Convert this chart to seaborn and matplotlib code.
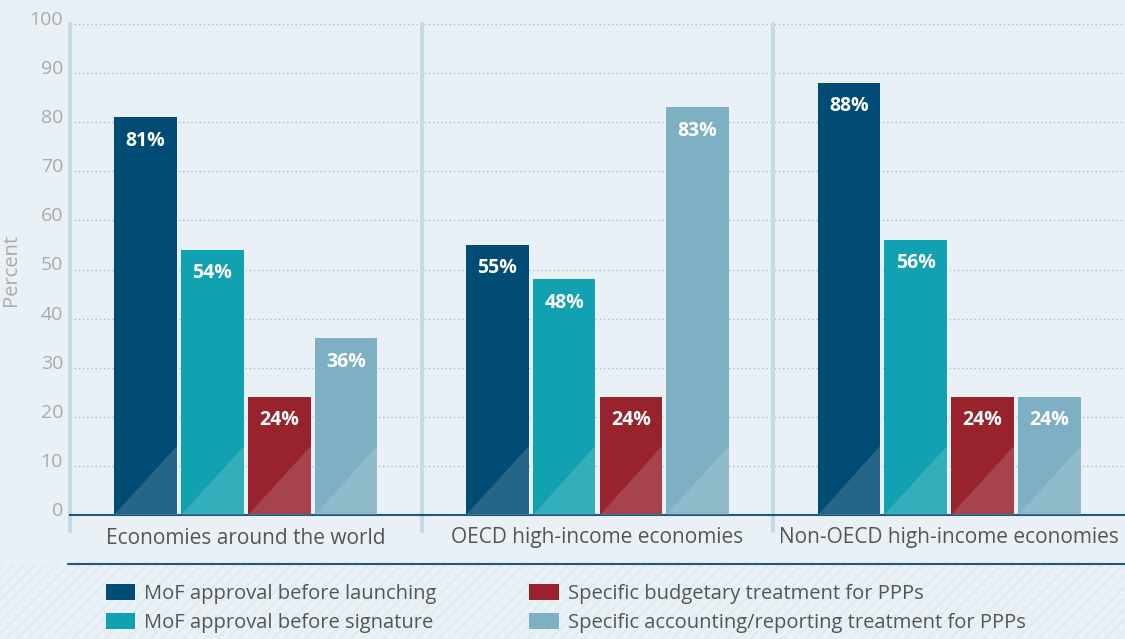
import numpy as np
import pandas as pd
import matplotlib.pyplot as plt
import matplotlib.transforms as mtransforms
from matplotlib.patches import Patch, Rectangle
from matplotlib.lines import Line2D
import seaborn as sns

# data
groups = ["Economies around the world", "OECD high-income economies", "Non-OECD high-income economies"]
measures = ["MoF approval before launching", "MoF approval before signature",
            "Specific budgetary treatment for PPPs", "Specific accounting/reporting treatment for PPPs"]
launching = [81, 55, 88]
signature = [54, 48, 56]
budgetary = [24, 24, 24]
accounting = [36, 83, 24]
colors = ["#004c74", "#11a1b0", "#98232d", "#7db0c2"]

df = pd.DataFrame({
    "group": groups * 4,
    "measure": np.repeat(measures, 3),
    "value": launching + signature + budgetary + accounting,
})

bg = "#eaf1f6"
sns.set_theme(style="white")
plt.rcParams["font.family"] = ["Open Sans", "DejaVu Sans"]
plt.rcParams["hatch.linewidth"] = 0.7

fig = plt.figure(figsize=(11.25, 6.39), dpi=100, facecolor=bg)
ax = fig.add_axes([70 / 1125, 1 - 515 / 639, 1 - 70 / 1125, (515 - 24) / 639])
ax.set_facecolor(bg)

# hatched band under the chart
fig.patches.append(Rectangle((0, 0), 1, 1 - 564 / 639, transform=fig.transFigure,
                             facecolor="none", edgecolor="#d9e5ed", hatch="///",
                             linewidth=0, zorder=0))

sns.barplot(data=df, x="group", y="value", hue="measure", hue_order=measures,
            palette=colors, saturation=1, width=0.76, gap=0.06, legend=False,
            linewidth=0, ax=ax)

ax.set_xlim(-0.5, 2.5)
ax.set_ylim(0, 100)
ax.set_yticks(range(0, 101, 10))
for y in range(10, 101, 10):
    ax.axhline(y, color="#9cc3d5", lw=1, ls=(0, (1, 2)), zorder=0)

# group separators
for x in [-0.5, 0.5, 1.5]:
    ax.axvline(x, ymin=-0.032, ymax=1, color="#c3dbe6", lw=3, clip_on=False, zorder=0)

for s in ["top", "right", "left"]:
    ax.spines[s].set_visible(False)
ax.spines["bottom"].set_color("#1d5a80")
ax.spines["bottom"].set_linewidth(1.5)

# light triangles at the foot of each bar and value labels
for cont in ax.containers:
    for bar in cont:
        x0, w = bar.get_x(), bar.get_width()
        h = min(14, bar.get_height())
        ax.fill([x0, x0 + w, x0 + w], [0, 0, h], color="white", alpha=0.15, lw=0, zorder=3)
    ax.bar_label(cont, labels=[f"{v:.0f}%" for v in cont.datavalues], padding=-24,
                 color="white", fontsize=14, fontweight="bold")

ax.tick_params(axis="x", length=0, pad=9, labelsize=15, labelcolor="#555555")
ax.tick_params(axis="y", length=0, pad=5, labelsize=14, labelcolor="#aaaaaa")
shift = mtransforms.ScaledTranslation(0, 6 / 100, fig.dpi_scale_trans)
for lab in ax.get_yticklabels():
    lab.set_transform(lab.get_transform() + shift)
ax.set_xlabel("")
ax.set_ylabel("Percent", color="#aaaaaa", fontsize=14.5, labelpad=6)

fig.lines.append(Line2D([68 / 1125, 1], [1 - 564 / 639] * 2, transform=fig.transFigure,
                        color="#1d5a80", lw=1.5))

handles = [Patch(facecolor=c, edgecolor="none") for c in colors]
fig.legend(handles, measures, ncol=2, loc="upper left", bbox_to_anchor=(88 / 1125, 1 - 566 / 639),
           frameon=False, fontsize=14.5, labelcolor="#555555", handlelength=1.45, handleheight=0.8,
           handletextpad=0.45, columnspacing=4.6, labelspacing=0.45)

fig.savefig("out.png", dpi=100, facecolor=bg)
